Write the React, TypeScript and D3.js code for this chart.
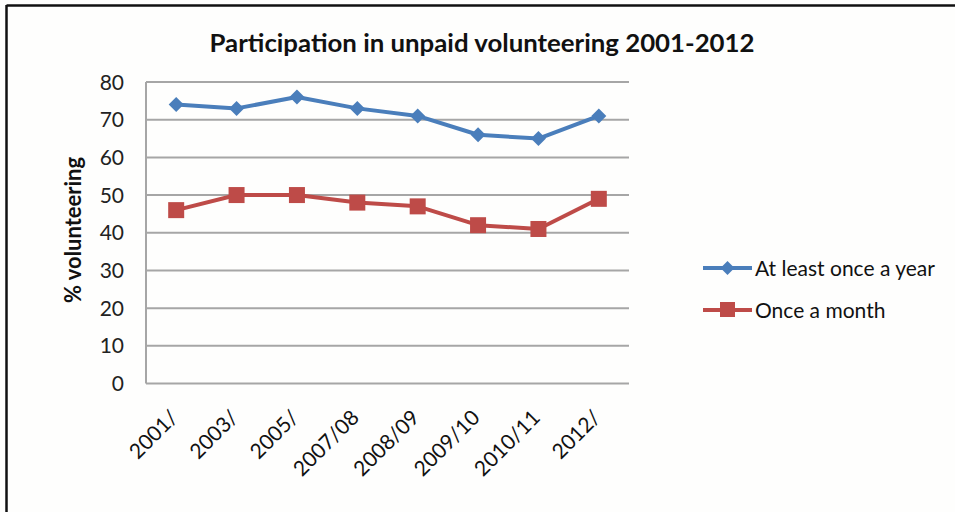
import React from "react";
import * as d3 from "d3";

const categories = ["2001/", "2003/", "2005/", "2007/08", "2008/09", "2009/10", "2010/11", "2012/"];
const yearly = [74, 73, 76, 73, 71, 66, 65, 71];
const monthly = [46, 50, 50, 48, 47, 42, 41, 49];
const yTicks = [0, 10, 20, 30, 40, 50, 60, 70, 80];
const seriesNames = ["At least once a year", "Once a month"];

const W = 955, H = 512;
const FONT = "Lato, 'Open Sans', sans-serif";
const BLUE = "#4A7EBB";
const RED = "#BE4B48";

export default function App() {
  const left = 146, right = 629, top = 82, bottom = 383.5;
  const x = d3.scaleBand<string>().domain(categories).range([left, right]);
  const y = d3.scaleLinear().domain([0, 80]).range([bottom, top]);
  const cx = (c: string) => (x(c) as number) + x.bandwidth() / 2;
  const line = d3.line<number>().x((_, i) => cx(categories[i])).y((d) => y(d));

  const diamond = (px: number, py: number, r = 7.5) =>
    `M${px},${py - r}L${px + r},${py}L${px},${py + r}L${px - r},${py}Z`;

  return (
    <svg width={W} height={H} style={{ position: "absolute", left: 0, top: 0, background: "#fff" }}>
      <rect x={0} y={0} width={W} height={H} fill="#fefefd" />
      <line x1={6.5} y1={5.5} x2={W} y2={5.5} stroke="#111" strokeWidth={2.5} />
      <line x1={6.5} y1={5} x2={6.5} y2={H} stroke="#111" strokeWidth={2.5} />
      <text x={482} y={52} textAnchor="middle" fontFamily={FONT} fontWeight="bold" fontSize={25.5} fill="#111"
        textLength={545} lengthAdjust="spacingAndGlyphs">
        Participation in unpaid volunteering 2001-2012
      </text>
      {yTicks.map((t) => (
        <g key={t}>
          <line x1={left} x2={right} y1={y(t)} y2={y(t)} stroke="#A6A6A6" strokeWidth={2} />
          <text x={124} y={y(t) + 7.5} textAnchor="end" fontFamily={FONT} fontSize={21} fill="#222">
            {t}
          </text>
        </g>
      ))}
      <line x1={left} x2={left} y1={top} y2={bottom} stroke="#A6A6A6" strokeWidth={2} />
      <text
        transform={`translate(81,${230}) rotate(-90)`}
        textAnchor="middle"
        fontFamily={FONT}
        fontWeight="bold"
        fontSize={22.5}
        fill="#111"
        textLength={146}
        lengthAdjust="spacingAndGlyphs"
      >
        % volunteering
      </text>
      {categories.map((c) => (
        <text
          key={c}
          transform={`translate(${cx(c) + 3},${419}) rotate(-45)`}
          textAnchor="end"
          fontFamily={FONT}
          fontSize={21}
          fill="#111"
        >
          {c}
        </text>
      ))}
      <path d={line(yearly) as string} fill="none" stroke={BLUE} strokeWidth={4} strokeLinejoin="round" />
      {yearly.map((v, i) => (
        <path key={i} d={diamond(cx(categories[i]), y(v))} fill={BLUE} />
      ))}
      <path d={line(monthly) as string} fill="none" stroke={RED} strokeWidth={4} strokeLinejoin="round" />
      {monthly.map((v, i) => (
        <rect key={i} x={cx(categories[i]) - 8} y={y(v) - 8} width={16} height={16} fill={RED} />
      ))}
      {/* legend */}
      <line x1={703} x2={752} y1={268} y2={268} stroke={BLUE} strokeWidth={4} />
      <path d={diamond(727.5, 268, 7)} fill={BLUE} />
      <text x={755} y={275.5} fontFamily={FONT} fontSize={21} fill="#111">
        {seriesNames[0]}
      </text>
      <line x1={703} x2={752} y1={310} y2={310} stroke={RED} strokeWidth={4} />
      <rect x={720} y={302} width={15} height={15} fill={RED} />
      <text x={755} y={317.5} fontFamily={FONT} fontSize={21} fill="#111">
        {seriesNames[1]}
      </text>
    </svg>
  );
}
